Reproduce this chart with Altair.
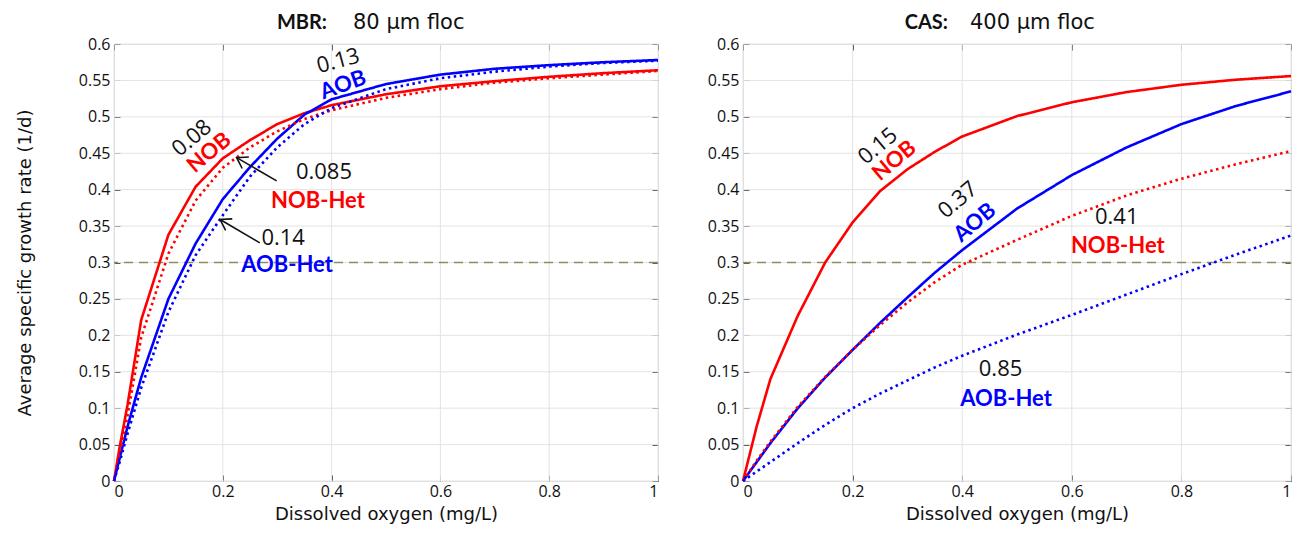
import altair as alt
import pandas as pd

# ---------------- data ----------------
SERIES = ["NOB", "AOB", "NOB-Het", "AOB-Het"]
SERIES_COLORS = ["#ff0000", "#0000ff", "#ff0000", "#0000ff"]
SERIES_DASH = [[1, 0], [1, 0], [2.5, 3.5], [2.5, 3.5]]
SERIES_WIDTH = [2.6, 2.6, 3.0, 3.0]

# MBR: 80 um floc
mbr_do = [0, 0.01, 0.025, 0.05, 0.1, 0.15, 0.2, 0.25, 0.3, 0.35, 0.4, 0.5, 0.6, 0.7, 0.8, 0.9, 1.0]
mbr_nob = [0, 0.045, 0.105, 0.221, 0.338, 0.404, 0.443, 0.468, 0.490, 0.505, 0.516, 0.531, 0.542, 0.549, 0.555, 0.560, 0.564]
mbr_aob = [0, 0.030, 0.075, 0.142, 0.250, 0.326, 0.387, 0.431, 0.470, 0.503, 0.524, 0.545, 0.558, 0.566, 0.571, 0.575, 0.578]
mbr_nob_het = [0, 0.035, 0.090, 0.197, 0.312, 0.385, 0.430, 0.458, 0.480, 0.497, 0.509, 0.526, 0.538, 0.547, 0.553, 0.558, 0.563]
mbr_aob_het = [0, 0.025, 0.065, 0.128, 0.232, 0.310, 0.365, 0.418, 0.458, 0.490, 0.512, 0.538, 0.553, 0.562, 0.569, 0.574, 0.577]

# CAS: 400 um floc
cas_do = [0, 0.025, 0.05, 0.1, 0.15, 0.2, 0.25, 0.3, 0.35, 0.4, 0.5, 0.6, 0.7, 0.8, 0.9, 1.0]
cas_nob = [0, 0.075, 0.140, 0.227, 0.300, 0.355, 0.398, 0.428, 0.452, 0.473, 0.501, 0.520, 0.534, 0.544, 0.551, 0.556]
cas_aob = [0, 0.026, 0.052, 0.100, 0.142, 0.180, 0.217, 0.252, 0.286, 0.317, 0.374, 0.420, 0.458, 0.490, 0.515, 0.535]
cas_nob_het = [0, 0.028, 0.054, 0.102, 0.143, 0.180, 0.214, 0.245, 0.273, 0.297, 0.331, 0.364, 0.392, 0.415, 0.435, 0.453]
cas_aob_het = [0, 0.013, 0.026, 0.052, 0.077, 0.100, 0.120, 0.138, 0.156, 0.172, 0.201, 0.228, 0.256, 0.284, 0.311, 0.337]

THRESHOLD = [0.3]
X_TICKS = [0, 0.2, 0.4, 0.6, 0.8, 1.0]
Y_TICKS = [0, 0.05, 0.1, 0.15, 0.2, 0.25, 0.3, 0.35, 0.4, 0.45, 0.5, 0.55, 0.6]

# annotations (data coordinates)
mbr_num_text = ["0.13", "0.08", "0.085", "0.14"]
mbr_num_x = [0.412, 0.143, 0.386, 0.311]
mbr_num_y = [0.577, 0.471, 0.424, 0.334]
mbr_num_angle = [345, 320, 0, 0]
mbr_name_text = ["AOB", "NOB", "NOB-Het", "AOB-Het"]
mbr_name_color = ["#0000ff", "#ff0000", "#ff0000", "#0000ff"]
mbr_name_x = [0.421, 0.175, 0.375, 0.318]
mbr_name_y = [0.544, 0.451, 0.384, 0.296]
mbr_name_angle = [340, 320, 0, 0]
mbr_arrow_x1 = [0.299, 0.268]
mbr_arrow_y1 = [0.412, 0.327]
mbr_arrow_x2 = [0.2255, 0.195]
mbr_arrow_y2 = [0.444, 0.359]
mbr_arrow_angle = [210, 210]

cas_num_text = ["0.15", "0.37", "0.41", "0.85"]
cas_num_x = [0.246, 0.392, 0.682, 0.470]
cas_num_y = [0.460, 0.386, 0.362, 0.154]
cas_num_angle = [320, 320, 0, 0]
cas_name_text = ["NOB", "AOB", "NOB-Het", "AOB-Het"]
cas_name_color = ["#ff0000", "#0000ff", "#ff0000", "#0000ff"]
cas_name_x = [0.276, 0.423, 0.684, 0.480]
cas_name_y = [0.440, 0.355, 0.323, 0.112]
cas_name_angle = [320, 320, 0, 0]

TITLES = [("MBR:", "80 \u03bcm floc"), ("CAS:", "400 \u03bcm floc")]
X_TITLE = "Dissolved oxygen (mg/L)"
Y_TITLE = "Average specific growth rate (1/d)"

LABEL_FONT = "Open Sans"
WIDE_FONT = "DejaVu Sans"
ANN_FONT = "Lato"
FRAME = "#555555"


def long_lines(xs, ys_list):
    rows = []
    for name, ys in zip(SERIES, ys_list):
        for x, y in zip(xs, ys):
            rows.append({"do": x, "mu": y, "series": name})
    return pd.DataFrame(rows)


def panel(xs, ys_list, nums, names, arrows, title, width, height, y_title, tb_x, tr_x):
    xs_scale = alt.Scale(domain=[0, 1], nice=False, zero=False)
    ys_scale = alt.Scale(domain=[0, 0.6], nice=False, zero=False)
    df = long_lines(xs, ys_list)

    gx = alt.Chart(pd.DataFrame({"v": X_TICKS})).mark_rule(color="#e3e3e3", strokeWidth=1).encode(
        x=alt.X("v:Q", scale=xs_scale, axis=None))
    gy = alt.Chart(pd.DataFrame({"v": Y_TICKS})).mark_rule(color="#e3e3e3", strokeWidth=1).encode(
        y=alt.Y("v:Q", scale=ys_scale, axis=None))
    thr = alt.Chart(pd.DataFrame({"v": THRESHOLD})).mark_rule(
        color="#938a55", strokeWidth=1.5, strokeDash=[9, 6]).encode(
        y=alt.Y("v:Q", scale=ys_scale, axis=None))

    x_axis = alt.Axis(orient="bottom", values=X_TICKS, format=".1~f", offset=-6, tickSize=6,
                      domain=False, grid=False, tickColor=FRAME, labelFont=LABEL_FONT,
                      labelFontSize=16, labelColor="#111", labelPadding=2, title=X_TITLE,
                      titleFont=WIDE_FONT, titleFontSize=18, titleFontWeight="normal",
                      titleColor="#111", titlePadding=6, minExtent=0)
    y_kwargs = dict(orient="left", values=Y_TICKS, format=".2~f", offset=-6, tickSize=6,
                    domain=False, grid=False, tickColor=FRAME, labelFont=LABEL_FONT,
                    labelFontSize=16, labelColor="#111", labelPadding=4, minExtent=0)
    if y_title:
        y_axis = alt.Axis(title=y_title, titleFont=WIDE_FONT, titleFontSize=18,
                          titleFontWeight="normal", titleColor="#111", titlePadding=44, **y_kwargs)
    else:
        y_axis = alt.Axis(title=None, **y_kwargs)

    lines = alt.Chart(df).mark_line(strokeCap="butt", strokeJoin="round").encode(
        x=alt.X("do:Q", scale=xs_scale, axis=x_axis),
        y=alt.Y("mu:Q", scale=ys_scale, axis=y_axis),
        color=alt.Color("series:N", scale=alt.Scale(domain=SERIES, range=SERIES_COLORS), legend=None),
        strokeDash=alt.StrokeDash("series:N", scale=alt.Scale(domain=SERIES, range=SERIES_DASH), legend=None),
        strokeWidth=alt.StrokeWidth("series:N", scale=alt.Scale(domain=SERIES, range=SERIES_WIDTH), legend=None),
        detail="series:N",
    )

    frame_axes = alt.Chart(df).mark_point(opacity=0).encode(
        x=alt.X("do:Q", scale=xs_scale, axis=alt.Axis(
            orient="top", values=X_TICKS, offset=-6, tickSize=6, domain=False, grid=False,
            labels=False, tickColor=FRAME, title=None, minExtent=0, maxExtent=0)),
        y=alt.Y("mu:Q", scale=ys_scale, axis=alt.Axis(
            orient="right", values=Y_TICKS, offset=-6, tickSize=6, domain=False, grid=False,
            labels=False, tickColor=FRAME, title=None, minExtent=0, maxExtent=0)),
    )

    ndf = pd.DataFrame(nums)
    num_layer = alt.Chart(ndf).mark_text(font=LABEL_FONT, fontSize=22, color="#111",
                                         align="center", baseline="middle").encode(
        x=alt.X("x:Q", scale=xs_scale, axis=None), y=alt.Y("y:Q", scale=ys_scale, axis=None),
        text="t:N", angle=alt.Angle("a:Q", scale=None))
    mdf = pd.DataFrame(names)
    name_layer = alt.Chart(mdf).mark_text(font=ANN_FONT, fontSize=22, fontWeight="bold",
                                          align="center", baseline="middle").encode(
        x=alt.X("x:Q", scale=xs_scale, axis=None), y=alt.Y("y:Q", scale=ys_scale, axis=None),
        text="t:N", angle=alt.Angle("a:Q", scale=None), color=alt.Color("c:N", scale=None))

    layers = [gx, gy, thr, lines, frame_axes, num_layer, name_layer]

    if arrows is not None:
        adf = pd.DataFrame(arrows)
        shaft = alt.Chart(adf).mark_rule(color="#111", strokeWidth=1.6).encode(
            x=alt.X("x1:Q", scale=xs_scale, axis=None), y=alt.Y("y1:Q", scale=ys_scale, axis=None),
            x2="x2:Q", y2="y2:Q")
        head = alt.Chart(adf).mark_point(shape="M -1 -0.65 L 0 0 L -1 0.65", filled=False,
                                         color="#111", strokeWidth=1.6, size=420, opacity=1).encode(
            x=alt.X("x2:Q", scale=xs_scale, axis=None), y=alt.Y("y2:Q", scale=ys_scale, axis=None),
            angle=alt.Angle("a:Q", scale=None))
        layers += [shaft, head]

    tdf = pd.DataFrame({"b": [title[0]], "r": [title[1]]})
    t_bold = alt.Chart(tdf).mark_text(font=ANN_FONT, fontSize=20, fontWeight="bold", align="right",
                                      baseline="alphabetic", color="#111").encode(
        x=alt.value(tb_x), y=alt.value(-15), text="b:N")
    t_rest = alt.Chart(tdf).mark_text(font=WIDE_FONT, fontSize=21, align="left",
                                      baseline="alphabetic", color="#111").encode(
        x=alt.value(tr_x), y=alt.value(-15), text="r:N")
    layers += [t_bold, t_rest]

    return alt.layer(*layers).resolve_axis(x="independent", y="independent").properties(
        width=width, height=height)


left = panel(
    mbr_do, [mbr_nob, mbr_aob, mbr_nob_het, mbr_aob_het],
    {"t": mbr_num_text, "x": mbr_num_x, "y": mbr_num_y, "a": mbr_num_angle},
    {"t": mbr_name_text, "x": mbr_name_x, "y": mbr_name_y, "a": mbr_name_angle, "c": mbr_name_color},
    {"x1": mbr_arrow_x1, "y1": mbr_arrow_y1, "x2": mbr_arrow_x2, "y2": mbr_arrow_y2, "a": mbr_arrow_angle},
    TITLES[0], 544, 437, Y_TITLE, 213, 239)

right = panel(
    cas_do, [cas_nob, cas_aob, cas_nob_het, cas_aob_het],
    {"t": cas_num_text, "x": cas_num_x, "y": cas_num_y, "a": cas_num_angle},
    {"t": cas_name_text, "x": cas_name_x, "y": cas_name_y, "a": cas_name_angle, "c": cas_name_color},
    None,
    TITLES[1], 548, 437, None, 205, 227)

chart = alt.hconcat(left, right, spacing=44).properties(
    padding={"left": 7, "top": 3, "right": 0, "bottom": 0}
).configure_view(stroke=FRAME, strokeWidth=1.2).configure(background="white")

chart.save("out.html", embed_options={"renderer": "svg", "actions": False})
